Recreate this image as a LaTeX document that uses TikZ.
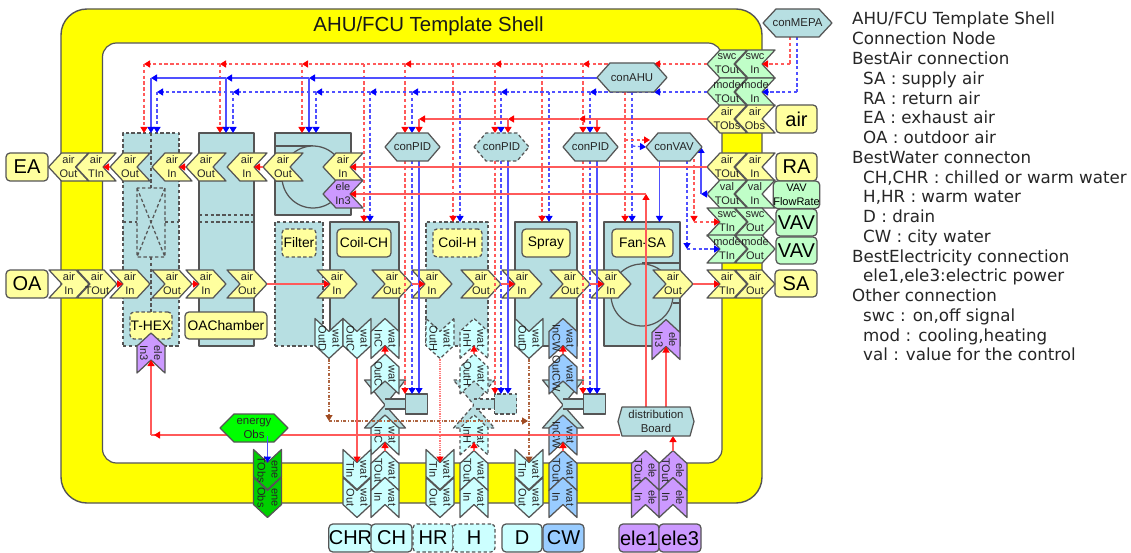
\documentclass[tikz,border=0pt]{standalone}
\usepackage{fontspec}
\setmainfont{Liberation Sans}
\newfontfamily\legfont{DejaVu Sans}
\usetikzlibrary{arrows.meta,calc}
\definecolor{cYel}{HTML}{FFFF00}
\definecolor{cLY}{HTML}{FFFF9E}
\definecolor{cTeal}{HTML}{B7DFE2}
\definecolor{cCy}{HTML}{CCFFFF}
\definecolor{cPur}{HTML}{CC99FF}
\definecolor{cBlu}{HTML}{99CCFF}
\definecolor{cGrn}{HTML}{C0FFC8}
\definecolor{cHot}{HTML}{00FF00}
\definecolor{cEne}{HTML}{00D000}
\definecolor{cEdge}{HTML}{555555}
\definecolor{cBrn}{HTML}{A04A20}
\definecolor{cRed}{HTML}{FF5A5A}
\definecolor{cBl}{HTML}{5050FF}
\tikzset{
  edgeline/.style={draw=cEdge,line width=1.25pt,line join=round},
  chevron/.style={edgeline},
  chevtxt/.style={inner sep=0pt,align=center,font=\fontsize{11}{14}\selectfont,text=black!85},
  compbox/.style={edgeline,fill=cTeal,inner sep=0pt,outer sep=0pt},
  labelbox/.style={edgeline,fill=cLY,rounded corners=4pt,inner sep=0pt,outer sep=0pt,font=\fontsize{13.8}{15}\selectfont},
  bigbox/.style={edgeline,rounded corners=4pt,inner sep=0pt,outer sep=0pt,font=\fontsize{20}{22}\selectfont},
  hextxt/.style={inner sep=0pt,outer sep=0pt,align=center,font=\fontsize{11.4}{14}\selectfont,text=black!85},
  dsh/.style={dash pattern=on 3.4pt off 2.4pt},
  headR/.style={-{Triangle[length=6pt,width=7pt,color=red]}},
  headB/.style={-{Triangle[length=6pt,width=7pt,color=blue]}},
  headN/.style={-{Triangle[length=6pt,width=7pt,color=cBrn]}},
  lnRD/.style={draw=cRed,line width=1.3pt,dsh,headR},
  lnBD/.style={draw=cBl,line width=1.3pt,dsh,headB},
  lnRS/.style={draw=cRed,line width=1.3pt,headR},
  lnBS/.style={draw=cBl,line width=1.4pt,headB},
  lnRP/.style={draw=cRed!80,line width=1.2pt,dash pattern=on 1pt off 0.8pt,headR},
  lnBr/.style={draw=cBrn!85,line width=1.1pt,dash pattern=on 3pt off 1.6pt on 1pt off 1.6pt,headN},
  legtxt/.style={inner sep=0pt,anchor=base west,font=\legfont\fontsize{16.7}{18}\selectfont,text=black!85},
}
% chevron: name, cx, cy, angle, line 1, line 2, options
\newcommand\hchev[7]{%
  \begin{scope}[shift={(#2,#3)},rotate=#4]
    \draw[chevron,#7] (-20,-14)--(7,-14)--(20,0)--(7,14)--(-20,14)--(-7,0)--cycle;
    \coordinate (#1t) at (20,0);
    \coordinate (#1n) at (-7,0);
  \end{scope}
  \node[chevtxt] (#1) at (#2,#3) {#5\\#6};}
\newcommand\vchev[7]{%
  \begin{scope}[shift={(#2,#3)},rotate=#4]
    \draw[chevron,#7] (-20,-14)--(7,-14)--(20,0)--(7,14)--(-20,14)--(-7,0)--cycle;
    \coordinate (#1t) at (20,0);
    \coordinate (#1n) at (-7,0);
  \end{scope}
  \node[chevtxt,rotate=-90] (#1) at (#2,#3) {#5\\#6};}
% rectangle node: name, x1, y1, x2, y2, style, text
\newcommand\rnode[7]{%
  \node[#6,minimum width={(#4-#2)*1pt},minimum height={(#5-#3)*1pt}] (#1) at ({(#2+#4)/2},{(#3+#5)/2}) {#7};}
% hexagon node: name, cx, cy, half-width, half-height, shoulder, options, text
\newcommand\hexnode[8]{%
  \draw[edgeline,#7] ({#2-#4},#3)--({#2-#4+#6},{#3-#5})--({#2+#4-#6},{#3-#5})--({#2+#4},#3)--({#2+#4-#6},{#3+#5})--({#2-#4+#6},{#3+#5})--cycle;
  \node[hextxt,minimum width={2*#4*1pt},minimum height={2*#5*1pt}] (#1) at (#2,#3) {#8};}
% valve with its actuator: name, cx, dash option
\newcommand\valve[3]{%
  \draw[edgeline,fill=cTeal,#3] ({#2-20.5},380)--({#2+20.5},380)--(#2,405)--({#2+20.5},428)--({#2-20.5},428)--(#2,405)--cycle;
  \draw[edgeline,fill=cTeal,#3] (#2,399)--({#2+21},399)--({#2+21},409)--(#2,409);
  \rnode{#1}{(#2+20.5)}{394}{(#2+42.5)}{414}{compbox,#3}{}}
\begin{document}
\begin{tikzpicture}[x=1pt,y=-1pt]
\useasboundingbox (0,0) rectangle (1131,553);
\fill[white] (0,0) rectangle (1131,553);
% shell
\draw[edgeline,line width=1.4pt,fill=cYel,rounded corners=26pt] (61,9) rectangle (762,503);
\draw[edgeline,line width=1.2pt,fill=white,rounded corners=14pt] (102.5,43) rectangle (722,463);
\node[inner sep=0pt,font=\fontsize{20.4}{22}\selectfont,text=black!90] (title) at (428.5,26) {AHU/FCU Template Shell};
% T-HEX
\rnode{thex}{123}{133}{179}{346}{compbox,dsh}{}
\coordinate (thexN) at (151,133);\coordinate (thexS) at (151,346);
\draw[edgeline,dsh] (thexN)--(151,188) (151,257)--(thexS) (123,222)--(137,222) (165,222)--(179,222);
\draw[edgeline,dsh] (137,188) rectangle (165,257) (137,188)--(165,257) (165,188)--(137,257);
\rnode{thexl}{130}{312}{172}{339}{labelbox,dsh}{T-HEX}
% OA chamber
\rnode{oach}{199}{133}{254}{346}{compbox}{}
\draw[edgeline,dsh] (199,215)--(254,215) (199,222)--(254,222);
\rnode{oachl}{185}{312}{267}{339}{labelbox}{OAChamber}
% return fan
\rnode{frafan}{275}{133}{351}{215}{compbox}{}
\draw[edgeline] (275,146)--(313,146) (275,181)--(282,181);
\draw[edgeline,fill=cTeal] (313,177) circle (31);
% filter
\rnode{filt}{275}{222}{323}{346}{compbox,dsh}{}
\rnode{filtl}{282}{229}{316}{257}{labelbox,dsh}{Filter}
% coils, spray, supply fan
\rnode{coilc}{330}{222}{399}{346}{compbox}{}
\rnode{coilcl}{337}{229}{391}{257}{labelbox}{Coil-CH}
\rnode{coilh}{426}{222}{488}{346}{compbox,dsh}{}
\rnode{coilhl}{433}{229}{482}{257}{labelbox,dsh}{Coil-H}
\rnode{spray}{515}{222}{577}{346}{compbox}{}
\rnode{sprayl}{522}{229}{570}{257}{labelbox}{Spray}
\rnode{fansa}{604}{222}{680}{346}{compbox}{}
\draw[edgeline] (642,263)--(680,263) (673,303)--(680,303);
\draw[edgeline,fill=cTeal] (642,295) circle (31);
\rnode{fansal}{612}{229}{673}{257}{labelbox}{Fan-SA}
% valves
\valve{actc}{385}{}
\valve{acth}{474}{dsh}
\valve{actw}{563}{}
% outer boxes
\rnode{bEA}{6}{153}{48}{181}{bigbox,fill=cLY}{EA}
\rnode{bOA}{6}{270}{48}{298}{bigbox,fill=cLY}{OA}
\rnode{bair}{776}{105}{817}{133}{bigbox,fill=cLY}{air}
\rnode{bRA}{776}{153}{817}{181}{bigbox,fill=cLY}{RA}
\rnode{bVF}{776}{181}{817}{208.5}{edgeline,fill=cGrn,rounded corners=4pt,inner sep=0pt,outer sep=0pt,align=center,font=\fontsize{11}{14}\selectfont}{VAV\\FlowRate}
\rnode{bV1}{776}{209}{817}{236}{bigbox,fill=cGrn}{VAV}
\rnode{bV2}{776}{237}{817}{264}{bigbox,fill=cGrn}{VAV}
\rnode{bSA}{775}{270}{817}{297}{bigbox,fill=cLY}{SA}
\rnode{bCHR}{330}{524}{371}{552}{bigbox,fill=cCy}{CHR}
\rnode{bCH}{371}{524}{412}{552}{bigbox,fill=cCy}{CH}
\rnode{bHR}{413}{524}{453}{552}{bigbox,fill=cCy,dsh}{HR}
\rnode{bH}{453}{524}{495}{552}{bigbox,fill=cCy,dsh}{H}
\rnode{bD}{502}{524}{542}{552}{bigbox,fill=cCy}{D}
\rnode{bCW}{543}{524}{584}{552}{bigbox,fill=cBlu}{CW}
\rnode{bE1}{619}{524}{659}{552}{bigbox,fill=cPur}{ele1}
\rnode{bE3}{659}{524}{701}{552}{bigbox,fill=cPur}{ele3}
% air ports, upper row
\hchev{ea1}{68.5}{167}{180}{air}{Out}{fill=cLY}
\hchev{ea2}{96}{167}{180}{air}{TIn}{fill=cLY}
\hchev{ea3}{130}{167}{180}{air}{Out}{fill=cLY}
\hchev{ea4}{172}{167}{180}{air}{In}{fill=cLY}
\hchev{ea5}{206}{167}{180}{air}{Out}{fill=cLY}
\hchev{ea6}{247}{167}{180}{air}{In}{fill=cLY}
\hchev{ea7}{283}{167}{180}{air}{Out}{fill=cLY}
\hchev{ea8}{343}{167}{180}{air}{In}{fill=cLY}
\hchev{eleR}{343}{194}{180}{ele}{In3}{fill=cPur}
% air ports, lower row
\hchev{oa1}{69}{284}{0}{air}{In}{fill=cLY}
\hchev{oa2}{97}{284}{0}{air}{TOut}{fill=cLY}
\hchev{oa3}{130}{284}{0}{air}{In}{fill=cLY}
\hchev{oa4}{172}{284}{0}{air}{Out}{fill=cLY}
\hchev{oa5}{206}{284}{0}{air}{In}{fill=cLY}
\hchev{oa6}{247}{284}{0}{air}{Out}{fill=cLY}
\hchev{oa7}{337}{284}{0}{air}{In}{fill=cLY}
\hchev{oa8}{392}{284}{0}{air}{Out}{fill=cLY}
\hchev{oa9}{432}{284}{0}{air}{In}{fill=cLY}
\hchev{oa10}{481}{284}{0}{air}{Out}{fill=cLY}
\hchev{oa11}{522}{284}{0}{air}{In}{fill=cLY}
\hchev{oa12}{570}{284}{0}{air}{Out}{fill=cLY}
\hchev{oa13}{611}{284}{0}{air}{In}{fill=cLY}
\hchev{oa14}{673}{284}{0}{air}{Out}{fill=cLY}
\hchev{oa15}{727}{284}{0}{air}{TIn}{fill=cLY}
\hchev{oa16}{755}{284}{0}{air}{Out}{fill=cLY}
% right column
\hchev{swcT}{727}{64}{180}{swc}{TOut}{fill=cGrn}
\hchev{swcI}{755}{64}{180}{swc}{In}{fill=cGrn}
\hchev{modT}{727}{92}{180}{mode}{TOut}{fill=cGrn}
\hchev{modI}{755}{92}{180}{mode}{In}{fill=cGrn}
\hchev{obsT}{727}{119}{180}{air}{TObs}{fill=cLY}
\hchev{obsI}{755}{119}{180}{air}{Obs}{fill=cLY}
\hchev{raT}{727}{167}{180}{air}{TOut}{fill=cLY}
\hchev{raI}{755}{167}{180}{air}{In}{fill=cLY}
\hchev{valT}{727}{194}{180}{val}{TOut}{fill=cGrn}
\hchev{valI}{755}{194}{180}{val}{In}{fill=cGrn}
\hchev{swcA}{727}{222}{0}{swc}{TIn}{fill=cGrn}
\hchev{swcO}{755}{222}{0}{swc}{Out}{fill=cGrn}
\hchev{modA}{727}{249}{0}{mode}{TIn}{fill=cGrn}
\hchev{modO}{755}{249}{0}{mode}{Out}{fill=cGrn}
% vertical ports of T-HEX and fan
\vchev{eleT}{151}{353}{90}{ele}{In3}{fill=cPur}
\vchev{eleF}{666}{339.5}{90}{ele}{In3}{fill=cPur}
% cooling coil water ports
\vchev{cOD}{329}{338.5}{-90}{wat}{OutD}{fill=cCy}
\vchev{cOC}{357}{338.5}{-90}{wat}{OutC}{fill=cCy}
\vchev{cIC}{385}{338.5}{90}{wat}{InC}{fill=cCy}
\vchev{cVO}{385}{374}{90}{wat}{OutC}{fill=cCy}
\vchev{cVI}{385}{435}{90}{wat}{InC}{fill=cCy}
\vchev{cTI}{357}{469.5}{-90}{wat}{TIn}{fill=cCy}
\vchev{cOu}{357}{497.5}{-90}{wat}{Out}{fill=cCy}
\vchev{cTO}{385}{470.5}{90}{wat}{TOut}{fill=cCy}
\vchev{cIn}{385}{497.5}{90}{wat}{In}{fill=cCy}
% heating coil water ports
\vchev{hOH}{440}{338.5}{-90}{wat}{OutH}{fill=cCy,dsh}
\vchev{hIH}{474}{338.5}{90}{wat}{InH}{fill=cCy,dsh}
\vchev{hVO}{474}{374}{90}{wat}{OutH}{fill=cCy,dsh}
\vchev{hVI}{474}{435}{90}{wat}{InH}{fill=cCy,dsh}
\vchev{hTI}{440}{469.5}{-90}{wat}{TIn}{fill=cCy}
\vchev{hOu}{440}{497.5}{-90}{wat}{Out}{fill=cCy}
\vchev{hTO}{474}{470.5}{90}{wat}{TOut}{fill=cCy}
\vchev{hIn}{474}{497.5}{90}{wat}{In}{fill=cCy}
% spray water ports
\vchev{sOD}{529}{338.5}{-90}{wat}{OutD}{fill=cCy}
\vchev{sIC}{563}{338.5}{90}{wat}{InCW}{fill=cBlu}
\vchev{sVO}{563}{374}{90}{wat}{OutCW}{fill=cBlu}
\vchev{sVI}{563}{435}{90}{wat}{InCW}{fill=cBlu}
\vchev{sTI}{529}{469.5}{-90}{wat}{TIn}{fill=cCy}
\vchev{sOu}{529}{497.5}{-90}{wat}{Out}{fill=cCy}
\vchev{sTO}{563}{470.5}{90}{wat}{TOut}{fill=cBlu}
\vchev{sIn}{563}{497.5}{90}{wat}{In}{fill=cBlu}
% electric ports
\vchev{e1T}{645.5}{470.5}{90}{ele}{TOut}{fill=cPur}
\vchev{e3T}{673}{470.5}{90}{ele}{TOut}{fill=cPur}
\vchev{e1I}{645.5}{497.5}{90}{ele}{In}{fill=cPur}
\vchev{e3I}{673}{497.5}{90}{ele}{In}{fill=cPur}
% energy ports
\vchev{enT}{267.5}{469.5}{-90}{ene}{TObs}{fill=cEne}
\vchev{enO}{267.5}{497.5}{-90}{ene}{Obs}{fill=cEne}
% bus junctions
\foreach \x in {144,220,302,364,405,453,495,542,583,654} \coordinate (r\x) at (\x,64);
\foreach \x in {157,233,316,370,412,460,501,549,590,654} \coordinate (b\x) at (\x,92);
\foreach \x in {151,226,309} \coordinate (s\x) at (\x,78);
\foreach \x in {419,508,597,579} \coordinate (o\x) at (\x,119);
\coordinate (vavIn) at (646,147);
\coordinate (ahuS) at (632,92);\coordinate (ahuW) at (597,78);
\coordinate (hR) at (625,140);\coordinate (hB) at (632,146);
\coordinate (vR) at (694,153);\coordinate (vB) at (687,161);\coordinate (vU) at (701,147);\coordinate (vS) at (659.5,161);
\coordinate (vRc) at (694,222);\coordinate (vBc) at (687,249);\coordinate (vUc) at (701,194);
\coordinate (mR) at (790,37);\coordinate (mB) at (797,37);\coordinate (mRc) at (790,64);\coordinate (mBc) at (797,92);
\coordinate (elbow) at (646,194);
\coordinate (bdW) at (620,435);\coordinate (bd1) at (646,407);\coordinate (bd2) at (666,407);\coordinate (bd3) at (673,436);
\coordinate (elbowT) at (151,435);
\coordinate (drN) at (329,421);\coordinate (drE) at (528,421);
\coordinate (enS) at (267.5,436);
% red dashed bus
\foreach \a/\b in {swcTt/r654,r654/r583,r583/r495,r495/r405,r405/r302,r302/r220,r220/r144}
  \draw[lnRD] (\a)--(\b);
\foreach \x/\t in {144/thex,220/oach,302/frafan,364/coilc,453/coilh,542/spray}
  \draw[lnRD] (r\x)--(r\x |- \t.north);
\foreach \x in {405,495,583} \draw[lnRD] (r\x)--(\x,133);
% blue dashed bus
\foreach \a/\b in {modTt/b654,b654/b590,b590/b501,b501/b412,b412/b370,b370/b316,b316/b233,b233/b157}
  \draw[lnBD] (\a)--(\b);
\foreach \x/\t in {157/thex,233/oach,316/frafan,370/coilc,460/coilh,549/spray}
  \draw[lnBD] (b\x)--(b\x |- \t.north);
\foreach \x in {412,501,590} \draw[lnBD] (b\x)--(\x,133);
% blue solid bus
\foreach \a/\b in {ahuW/s309,s309/s226,s226/s151} \draw[lnBS] (\a)--(\b);
\foreach \x/\t in {151/thex,226/oach,309/frafan} \draw[lnBS] (s\x)--(s\x |- \t.north);
% red solid bus
\foreach \a/\b in {obsTt/o579,o579/o508,o508/o419} \draw[lnRS] (\a)--(\b);
\foreach \x in {419,508,597} \draw[lnRS] (o\x)--(\x,133);
% PID outputs to actuators
\foreach \x in {405,495,583} \draw[lnRD] (\x,161)--(\x,394);
\foreach \x in {412,501,590} \draw[lnBD] (\x,161)--(\x,394);
\foreach \x in {419,508,597} \draw[lnBS] (\x,161)--(\x,394);
% AHU and VAV control
\draw[lnRD] (625,92)--(625,222);
\draw[lnBD] (ahuS)--(632,222);
\draw[lnRD] (hR)--(650,140);
\draw[lnBD] (hB)--(vavIn);
\draw[lnBS] (vS)--(vS |- fansa.north);
\draw[lnBD] (vB)--(vBc);
\draw[lnBD] (vBc)--(modAn);
\draw[lnRD] (vR)--(vRc);
\draw[lnRD] (vRc)--(swcAn);
\draw[lnBS] (valTt)--(vUc);
\draw[lnBS] (vUc)--(vU);
\draw[draw=cRed,line width=1.3pt,dsh] (mR)--(mRc);
\draw[lnRD] (mRc)--(swcIn);
\draw[draw=cBl,line width=1.3pt,dsh] (mB)--(mBc);
\draw[lnBD] (mBc)--(modIn);
% air links
\foreach \a/\b in {ea3t/ea2n,ea5t/ea4n,ea7t/ea6n,oa2t/oa3n,oa4t/oa5n,oa6t/oa7n,oa8t/oa9n,oa10t/oa11n,oa12t/oa13n,oa14t/oa15n}
  \draw[lnRS] (\a)--(\b);
\draw[lnRS] (raTt)--(ea8n);
\draw[lnRS] (bd1)--(elbow);
\draw[lnRS] (elbow)--(eleRn);
\draw[draw=cRed,line width=1.3pt] (bdW)--(elbowT);
\draw[lnRS] (bdW)--(154,435);
\draw[lnRS] (elbowT)--(eleTn);
\draw[lnRS] (bd2)--(eleFn);
\draw[lnRS] (e3Tt)--(bd3);
% water links
\draw[lnRS] (cOCt)--(cTIn);
\draw[lnRP] (hOHt)--(hTIn);
\draw[lnRS] (cVOt)--(cICn);
\draw[lnRS] (cTOt)--(cVIn);
\draw[lnRS] (hVOt)--(hIHn);
\draw[lnRS] (hTOt)--(hVIn);
\draw[lnRS] (sVOt)--(sICn);
\draw[lnRS] (sTOt)--(sVIn);
\draw[lnBr] (cODt)--(drN);
\draw[lnBr] (drN)--(drE);
\draw[lnBr] (sODt)--(sTIn);
% hexagons
\hexnode{pid1}{412.5}{147}{27.5}{14}{12}{fill=cTeal}{conPID}
\hexnode{pid2}{501.5}{147}{27.5}{14}{12}{fill=cTeal,dsh}{conPID}
\hexnode{pid3}{590.5}{147}{27.5}{14}{12}{fill=cTeal}{conPID}
\hexnode{vav}{674}{147}{28}{14}{12}{fill=cTeal}{conVAV}
\hexnode{ahu}{632}{77.5}{35}{14.5}{13}{fill=cTeal}{conAHU}
\hexnode{mepa}{797.5}{23}{34.5}{14}{13}{fill=cTeal}{conMEPA}
\hexnode{board}{656}{421.5}{38}{14.5}{4}{fill=cTeal}{distribution\\Board}
\hexnode{enobs}{254}{428}{34}{14}{14}{fill=cHot}{energy\\Obs}
\draw[draw=cBl,line width=1.2pt,headB] (enS)--(enTn);
% legend
\foreach \i/\x/\t in {
 0/852/{AHU/FCU Template Shell},
 1/852/{Connection Node},
 2/852/{BestAir connection},
 3/863/{SA : supply air},
 4/863/{RA : return air},
 5/863/{EA : exhaust air},
 6/863/{OA : outdoor air},
 7/852/{BestWater connecton},
 8/863/{CH,CHR : chilled or warm water},
 9/863/{H,HR : warm water},
 10/863/{D : drain},
 11/863/{CW : city water},
 12/852/{BestElectricity connection},
 13/863/{ele1,ele3:electric power},
 14/852/{Other connection},
 15/863/{swc : on,off signal},
 16/863/{mod : cooling,heating},
 17/863/{val : value for the control}}
  \node[legtxt] (leg\i) at (\x,{25+19.76*\i}) {\t};
\end{tikzpicture}
\end{document}
